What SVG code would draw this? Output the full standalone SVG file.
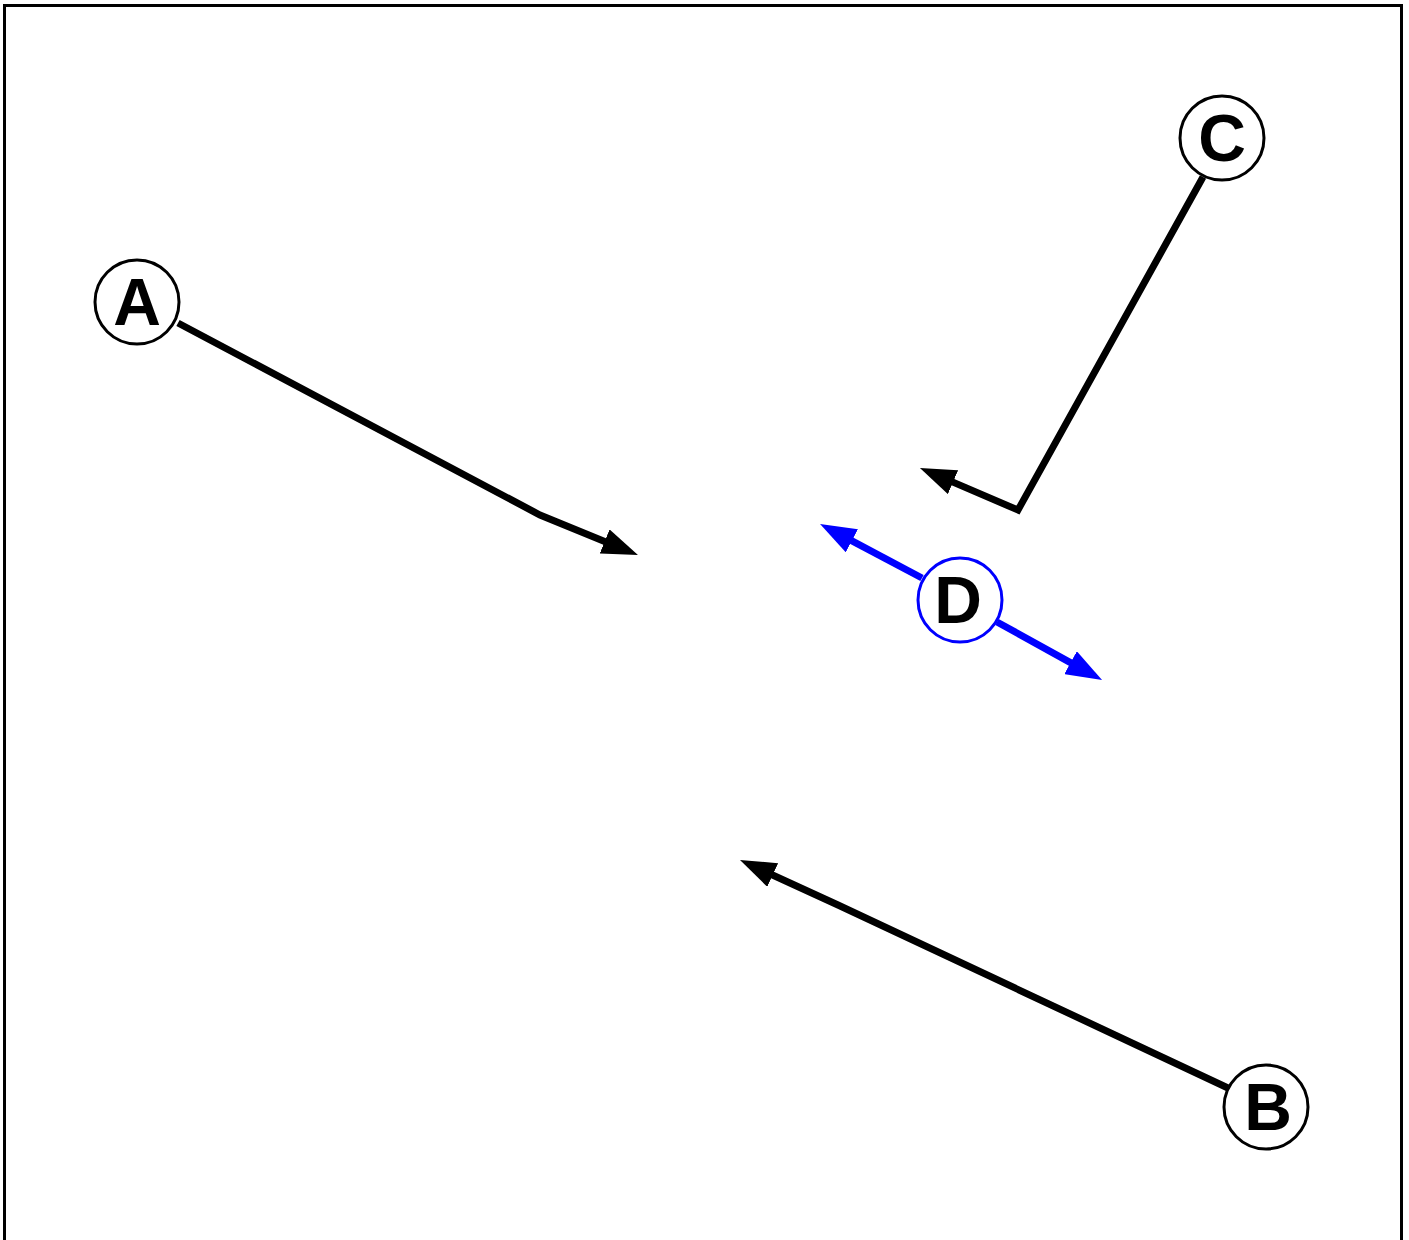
<svg xmlns="http://www.w3.org/2000/svg" width="1409" height="1240" viewBox="0 0 1409 1240">
<style>
.node circle{fill:#fff;stroke:#000;stroke-width:3}
.node text{font-family:"Liberation Sans",Arial,sans-serif;font-weight:bold;font-size:66px;text-anchor:middle;fill:#000}
.edge{fill:none;stroke:#000;stroke-width:7}
.blue{stroke:#0000ff}
</style>
<defs>
<marker id="ah" viewBox="0 0 36 26" refX="2" refY="13" markerWidth="36" markerHeight="26" markerUnits="userSpaceOnUse" orient="auto">
<path d="M0,0 L36,13 L0,26 Z" fill="#000"/>
</marker>
<marker id="ahb" viewBox="0 0 36 26" refX="2" refY="13" markerWidth="36" markerHeight="26" markerUnits="userSpaceOnUse" orient="auto">
<path d="M0,0 L36,13 L0,26 Z" fill="#0000ff"/>
</marker>
</defs>
<rect x="0" y="0" width="1409" height="1240" fill="#fff"/>
<rect x="4.5" y="5.5" width="1397" height="1250" fill="none" stroke="#000" stroke-width="3"/>
<g id="connectors">
<polyline class="edge" points="178,323 540,515 606.5,542.2" marker-end="url(#ah)"/>
<polyline class="edge" points="1203,177 1018,510 951.2,481.4" marker-end="url(#ah)"/>
<polyline class="edge" points="1228,1088 838,905 770.9,874.2" marker-end="url(#ah)"/>
<polyline class="edge blue" points="922,578 850.1,539.9" marker-end="url(#ahb)"/>
<polyline class="edge blue" points="997,622 1072.3,663.6" marker-end="url(#ahb)"/>
</g>
<g id="node-A" class="node"><circle cx="137" cy="302" r="42"/><text x="137" y="325">A</text></g>
<g id="node-C" class="node"><circle cx="1222" cy="138" r="42"/><text x="1222" y="161">C</text></g>
<g id="node-B" class="node"><circle cx="1266" cy="1107" r="42"/><text x="1268" y="1130">B</text></g>
<g id="node-D" class="node"><circle cx="960" cy="600" r="42" style="stroke:#0000ff"/><text x="958" y="623">D</text></g>
</svg>
